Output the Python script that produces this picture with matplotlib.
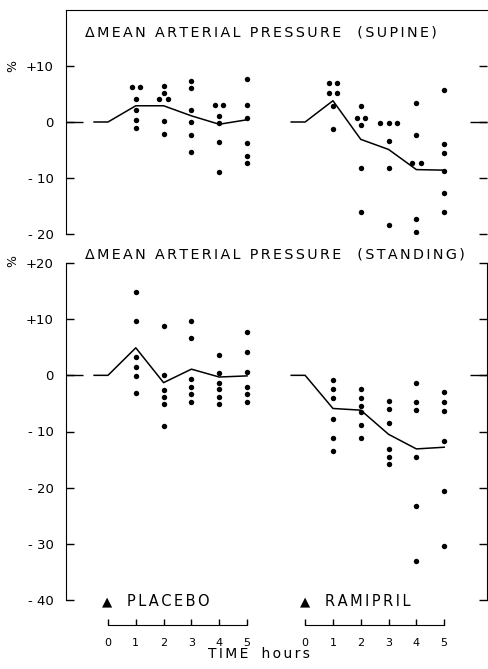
import numpy as np
import matplotlib.pyplot as plt

# change in mean arterial pressure (%), six subjects per hour
hours = [1, 2, 3, 4, 5]
line_hours = [-0.5, 0, 1, 2, 3, 4, 5]

supine_placebo = [[6.2, 6.2, 4.1, 2.1, 0.4, -1.1],
                  [6.4, 5.1, 4.1, 4.1, 0.2, -2.1],
                  [7.3, 6.0, 2.1, 0.0, -2.3, -5.3],
                  [3.0, 3.0, 1.1, -0.2, -3.6, -9.0],
                  [7.7, 3.0, 0.8, -3.7, -6.0, -7.3]]
supine_ramipril = [[7.0, 7.0, 5.1, 5.1, 2.8, -1.2],
                   [2.8, 0.8, 0.8, -0.5, -8.3, -16.1],
                   [-0.2, -0.2, -0.2, -3.4, -8.3, -18.4],
                   [3.4, -2.3, -7.4, -7.4, -17.3, -19.7],
                   [5.7, -3.9, -5.5, -8.7, -12.6, -16.1]]
standing_placebo = [[14.8, 9.7, 3.3, 1.5, -0.2, -3.2],
                    [8.8, 0.1, -2.6, -3.8, -5.1, -9.0],
                    [9.6, 6.7, -0.7, -2.0, -3.4, -4.7],
                    [3.6, 0.4, -1.3, -2.5, -3.9, -5.1],
                    [7.7, 4.1, 0.6, -2.0, -3.4, -4.7]]
standing_ramipril = [[-0.9, -2.5, -4.0, -7.8, -11.2, -13.4],
                     [-2.5, -4.1, -5.5, -6.6, -8.8, -11.2],
                     [-4.5, -6.0, -8.4, -13.1, -14.5, -15.8],
                     [-1.3, -4.7, -6.1, -14.5, -23.3, -33.0],
                     [-2.9, -4.7, -6.4, -11.7, -20.6, -30.3]]

supine_placebo_mean = [0, 0, 2.9, 2.9, 1.1, -0.4, 0.4]
supine_ramipril_mean = [0, 0, 3.8, -3.1, -4.9, -8.5, -8.6]
standing_placebo_mean = [0, 0, 4.9, -1.3, 1.1, -0.3, -0.1]
standing_ramipril_mean = [0, 0, -5.9, -6.2, -10.5, -13.1, -12.8]

top_ticks = [10, 0, -10, -20]
top_labels = ['+10', '0', '- 10', '- 20']
bot_ticks = [20, 10, 0, -10, -20, -30, -40]
bot_labels = ['+20', '+10', '0', '- 10', '- 20', '- 30', '- 40']
time_ticks = [0, 1, 2, 3, 4, 5]

W, H = 488, 669
group_offset = 7.09  # ramipril group starts this many hour-units to the right


def box(l, t, r, b):
    return [l / W, 1 - b / H, (r - l) / W, (b - t) / H]


def spaced(s):
    # the original lettering is widely tracked
    return '\u2006'.join(s)


fig = plt.figure(figsize=(W / 100, H / 100), dpi=100)
ax_top = fig.add_axes(box(66, 10, 487, 234))
ax_bot = fig.add_axes(box(66, 263, 487, 600))


def draw_group(ax, groups, mean, shift):
    for h, vals in zip(hours, groups):
        vals = np.array(vals)
        for v in np.unique(vals):
            n = (vals == v).sum()
            xs = h + shift + (np.arange(n) - (n - 1) / 2) * 0.3
            ax.plot(xs, [v] * n, 'o', color='black', ms=3.9, mew=0)
    ax.plot(np.array(line_hours) + shift, mean, color='black', lw=1.1)


draw_group(ax_top, supine_placebo, supine_placebo_mean, 0)
draw_group(ax_top, supine_ramipril, supine_ramipril_mean, group_offset)
draw_group(ax_bot, standing_placebo, standing_placebo_mean, 0)
draw_group(ax_bot, standing_ramipril, standing_ramipril_mean, group_offset)

for ax, ticks, labels, ylim in [(ax_top, top_ticks, top_labels, (-20, 20)),
                                (ax_bot, bot_ticks, bot_labels, (-40, 20))]:
    ax.set_xlim(-1.51, 13.63)
    ax.set_ylim(*ylim)
    ax.set_xticks([])
    ax.set_yticks(ticks)
    ax.set_yticklabels(labels)
    ax.set_yticks([0], minor=True)
    ax.yaxis.remove_overlapping_locs = False
    ax.tick_params(axis='y', which='major', direction='in', length=6, width=1,
                   left=True, right=True, labelsize=9.5, pad=9)
    ax.tick_params(axis='y', which='minor', direction='in', length=12, width=1,
                   left=True, right=True)
    ax.spines['bottom'].set_visible(False)
    ax.patch.set_visible(False)

ax_top.spines['right'].set_visible(False)
ax_bot.spines['top'].set_visible(False)

fig.text(85 / W, 1 - 32 / H, spaced('\u0394MEAN ARTERIAL PRESSURE  (SUPINE)'),
         fontsize=10.3, va='center')
fig.text(85 / W, 1 - 254 / H, spaced('\u0394MEAN ARTERIAL PRESSURE  (STANDING)'),
         fontsize=10.3, va='center')
fig.text(13 / W, 1 - 66 / H, '%', fontsize=9, rotation=90, ha='center', va='center')
fig.text(13 / W, 1 - 261 / H, '%', fontsize=9, rotation=90, ha='center', va='center')

for x, name in [(102, 'PLACEBO'), (300, 'RAMIPRIL')]:
    fig.text(x / W, 1 - 602 / H, '\u25b2', fontsize=9.5, va='center')
    fig.text((x + 25) / W, 1 - 601 / H, spaced(name), fontsize=10.5, va='center')

# separate time axes under each group
to_fig = fig.transFigure.inverted()
for shift in (0, group_offset):
    x0 = to_fig.transform(ax_bot.transData.transform((shift, 0)))[0]
    x1 = to_fig.transform(ax_bot.transData.transform((shift + 5, 0)))[0]
    tax = fig.add_axes([x0, 1 - 625 / H, x1 - x0, 8 / H])
    tax.set_xlim(0, 5)
    tax.set_xticks(time_ticks)
    tax.set_yticks([])
    tax.tick_params(axis='x', direction='in', length=4, width=1, labelsize=8, pad=9)
    for s in ('top', 'left', 'right'):
        tax.spines[s].set_visible(False)
    tax.patch.set_visible(False)

fig.text(259 / W, 1 - 654 / H, spaced('TIME') + '   ' + spaced('hours'),
         fontsize=10, ha='center', va='center')

fig.savefig('out.png', dpi=100, facecolor='white')
